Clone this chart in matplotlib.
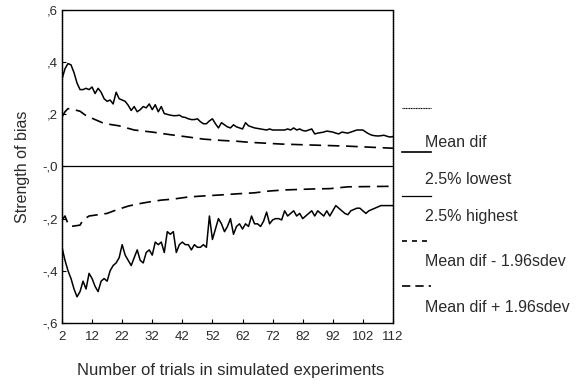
import numpy as np
import matplotlib
matplotlib.use("Agg")
import matplotlib.pyplot as plt
from matplotlib.lines import Line2D

plt.rcParams['font.family'] = ['Liberation Sans', 'DejaVu Sans']

# number of trials, one value per trial for the percentile curves
trials = list(range(2, 113))

high_25 = [0.335, 0.375, 0.395, 0.39, 0.36, 0.32, 0.295, 0.295, 0.30, 0.295,
           0.305, 0.28, 0.30, 0.285, 0.26, 0.25, 0.255, 0.24, 0.285, 0.26,
           0.255, 0.25, 0.235, 0.215, 0.23, 0.21, 0.218, 0.23, 0.225, 0.24,
           0.218, 0.237, 0.21, 0.23, 0.203, 0.20, 0.197, 0.195, 0.195, 0.197,
           0.19, 0.188, 0.183, 0.18, 0.18, 0.183, 0.172, 0.164, 0.164, 0.175,
           0.183, 0.164, 0.148, 0.168, 0.16, 0.152, 0.148, 0.16, 0.152, 0.148,
           0.144, 0.168, 0.156, 0.152, 0.148, 0.146, 0.144, 0.142, 0.14, 0.144,
           0.14, 0.14, 0.14, 0.14, 0.14, 0.144, 0.14, 0.148, 0.14, 0.144,
           0.138, 0.136, 0.14, 0.144, 0.125, 0.128, 0.13, 0.132, 0.136, 0.134,
           0.132, 0.128, 0.125, 0.132, 0.13, 0.128, 0.132, 0.136, 0.14, 0.14,
           0.14, 0.132, 0.125, 0.12, 0.118, 0.117, 0.118, 0.12, 0.116, 0.113,
           0.115]

low_25 = [-0.31, -0.36, -0.40, -0.43, -0.47, -0.50, -0.48, -0.44, -0.47, -0.41,
          -0.43, -0.46, -0.48, -0.44, -0.43, -0.44, -0.40, -0.38, -0.37, -0.35,
          -0.30, -0.34, -0.36, -0.38, -0.35, -0.32, -0.36, -0.37, -0.33, -0.32,
          -0.34, -0.29, -0.30, -0.29, -0.33, -0.25, -0.26, -0.25, -0.33, -0.30,
          -0.29, -0.30, -0.30, -0.32, -0.30, -0.31, -0.31, -0.30, -0.31, -0.19,
          -0.28, -0.24, -0.20, -0.22, -0.25, -0.23, -0.20, -0.26, -0.23, -0.22,
          -0.24, -0.22, -0.23, -0.19, -0.22, -0.22, -0.23, -0.21, -0.175, -0.22,
          -0.205, -0.20, -0.20, -0.205, -0.17, -0.19, -0.18, -0.17, -0.19, -0.18,
          -0.20, -0.19, -0.18, -0.17, -0.19, -0.17, -0.18, -0.19, -0.17, -0.19,
          -0.17, -0.15, -0.16, -0.17, -0.18, -0.185, -0.17, -0.165, -0.16, -0.16,
          -0.17, -0.18, -0.17, -0.165, -0.16, -0.155, -0.15, -0.15, -0.15, -0.15,
          -0.15]

# smooth +/- 1.96 sdev curves, read at fewer points
sd_x_up = [2, 3, 4, 6, 8, 10, 13, 16, 21, 26, 32, 38, 44, 49, 55, 60, 64, 75, 86, 97, 112]
sd_plus = [0.19, 0.21, 0.222, 0.218, 0.212, 0.195, 0.18, 0.165, 0.156, 0.14,
           0.132, 0.122, 0.113, 0.105, 0.10, 0.097, 0.093, 0.086, 0.082, 0.078, 0.07]

sd_x_lo = [2, 3, 4, 5, 8, 9, 11, 14, 17, 20, 24, 27, 31, 35, 39, 44, 49, 55, 60,
           66, 71, 76, 86, 91, 97, 112]
sd_minus = [-0.205, -0.19, -0.22, -0.23, -0.225, -0.205, -0.19, -0.185, -0.18,
            -0.167, -0.152, -0.144, -0.136, -0.129, -0.125, -0.117, -0.113,
            -0.109, -0.105, -0.101, -0.094, -0.09, -0.086, -0.085, -0.078, -0.076]

mean_x = [2, 112]
mean_dif = [0.0, 0.0]

x_ticks = [2, 12, 22, 32, 42, 52, 62, 72, 82, 92, 102, 112]
y_ticks = [0.6, 0.4, 0.2, 0.0, -0.2, -0.4, -0.6]
y_labels = [",6", ",4", ",2", "-,0", "-,2", "-,4", "-,6"]

legend_labels = ["Mean dif", "2.5% lowest", "2.5% highest",
                 "Mean dif - 1.96sdev", "Mean dif + 1.96sdev"]

txt = '#2a2a2a'

fig = plt.figure(figsize=(5.82, 3.89), dpi=100)
ax = fig.add_axes([0.1065, 0.170, 0.5687, 0.804])

ax.plot(mean_x, mean_dif, color='black', lw=0.9)
ax.plot(trials, high_25, color='black', lw=1.1)
ax.plot(trials, low_25, color='black', lw=1.1)
ax.plot(sd_x_up, sd_plus, color='black', lw=1.2, dashes=(7, 4))
ax.plot(sd_x_lo, sd_minus, color='black', lw=1.2, dashes=(7, 4))

ax.set_xlim(2, 112)
ax.set_ylim(-0.6, 0.6)
ax.set_xticks(x_ticks)
ax.set_yticks(y_ticks)
ax.set_yticklabels(y_labels)
ax.tick_params(direction='in', length=3, width=0.8, labelsize=9.5, colors='black',
               labelcolor=txt)
ax.tick_params(axis='x', pad=6)
ax.tick_params(axis='y', pad=3)
for s in ax.spines.values():
    s.set_color('black')
    s.set_linewidth(1.0)
ax.spines['left'].set_linestyle((0, (1, 0.6)))
ax.spines['right'].set_linestyle((0, (1, 0.6)))

ax.set_ylabel("Strength of bias", fontsize=11.5, color=txt, labelpad=9)
fig.text(0.397, 0.028, "Number of trials in simulated experiments",
         fontsize=12, color=txt, ha='center', va='bottom')

# legend: line sample sits above its text, as in the original layout
sample_y = [108, 152, 196, 241, 286]
label_y = [142, 180, 217, 262, 308]
styles = [dict(lw=0.8, ls=(0, (1, 0.5))), dict(lw=1.2, ls='-'), dict(lw=0.9, ls='-'),
          dict(lw=1.2, ls=(0, (3, 3))), dict(lw=1.2, ls=(0, (5, 3)))]
H = 389.0
W = 582.0
for sy, ly, lab, st in zip(sample_y, label_y, legend_labels, styles):
    fig.add_artist(Line2D([402 / W, 431 / W], [1 - sy / H, 1 - sy / H],
                          color='black', **st))
    fig.text(425 / W, 1 - ly / H, lab, fontsize=11.5, color=txt,
             ha='left', va='center')

fig.savefig("out.png", dpi=100)
